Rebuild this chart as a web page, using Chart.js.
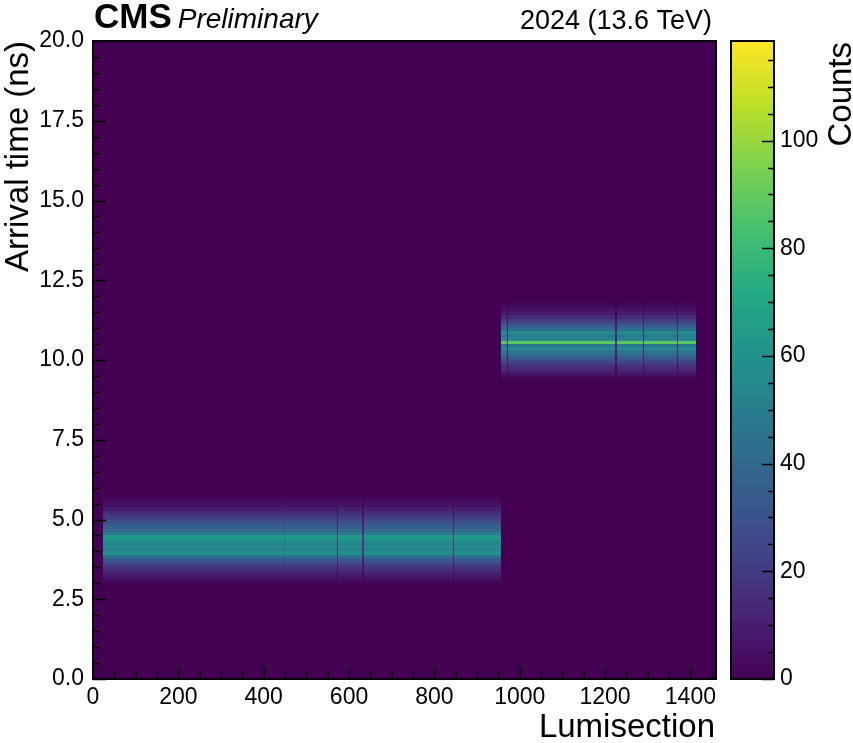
<!DOCTYPE html>
<html>
<head>
<meta charset="utf-8">
<script src="https://cdn.jsdelivr.net/npm/chart.js@4.4.1/dist/chart.umd.min.js"></script>
<style>
html,body{margin:0;padding:0;background:#fff;}
#c{display:block;}
</style>
</head>
<body>
<canvas id="c" width="853" height="743"></canvas>
<script>
// ---------------- data ----------------
// lower band (first timing setting)
const lowLumiEdges = [23, 450, 453, 572, 575, 631, 634, 843, 846, 955];
const lowLumiScale = [1, 0.82, 1, 0.35, 1, 0.35, 1, 0.38, 1];
const lowTimeBins  = [3.0,3.1,3.2,3.3,3.4,3.5,3.6,3.7,3.8,3.9,4.0,4.1,4.2,4.3,4.4,4.5,4.6,4.7,4.8,4.9,5.0,5.1,5.2,5.3,5.4,5.5,5.6];
const lowCounts    = [3,5,8,12,16,21,27,34,44,60,52,56,54,60,64,48,41,37,32,27,22,17,13,9,6,4,2];
// upper band (second timing setting)
const highLumiEdges = [955, 970, 973, 1224, 1227, 1289, 1292, 1369, 1372, 1413];
const highLumiScale = [1, 0.3, 1, 0.25, 1, 0.35, 1, 0.35, 1];
const highTimeBins  = [9.4,9.5,9.6,9.7,9.8,9.9,10.0,10.1,10.2,10.3,10.4,10.5,10.6,10.7,10.8,10.9,11.0,11.1,11.2,11.3,11.4,11.5,11.6,11.7];
const highCounts    = [3,6,10,14,20,26,32,40,46,56,46,88,54,50,58,42,36,28,21,14,9,6,4,2];
const timeBinWidth = 0.1;
// axis settings
const xMax = 1460, yMax = 20, countsMax = 118.5;
const xTickStep = 200, yTickStep = 2.5, cTickStep = 20;

// ---------------- style ----------------
const FONT = "'Liberation Sans', Arial, Helvetica, sans-serif";
const viridisStops = ['#440154','#482475','#414487','#355f8d','#2a788e','#21918c','#22a884','#44bf70','#7ad151','#bddf26','#fde725'];
function hex2rgb(h){return [parseInt(h.slice(1,3),16),parseInt(h.slice(3,5),16),parseInt(h.slice(5,7),16)];}
const vRGB = viridisStops.map(hex2rgb);
function viridis(t){
  t = Math.max(0, Math.min(1, t));
  const f = t*(vRGB.length-1);
  const i = Math.min(vRGB.length-2, Math.floor(f));
  const u = f - i;
  const a = vRGB[i], b = vRGB[i+1];
  return 'rgb(' + Math.round(a[0]+(b[0]-a[0])*u) + ',' + Math.round(a[1]+(b[1]-a[1])*u) + ',' + Math.round(a[2]+(b[2]-a[2])*u) + ')';
}

function drawBand(ctx, x, y, edges, scales, tBins, counts){
  for (let s = 0; s < scales.length; s++){
    const x0 = Math.round(x.getPixelForValue(edges[s]));
    const x1 = Math.round(x.getPixelForValue(edges[s+1]));
    for (let k = 0; k < tBins.length; k++){
      const y0 = Math.round(y.getPixelForValue(tBins[k] + timeBinWidth));
      const y1 = Math.round(y.getPixelForValue(tBins[k]));
      ctx.fillStyle = viridis(counts[k]*scales[s]/countsMax);
      ctx.fillRect(x0, y0, Math.max(1, x1-x0), Math.max(1, y1-y0));
    }
  }
}

const heatPlugin = {
  id: 'heat',
  beforeDatasetsDraw(chart){
    const {ctx, chartArea:a, scales:{x, y}} = chart;
    ctx.save();
    ctx.fillStyle = viridis(0);
    ctx.fillRect(a.left, a.top, a.right-a.left, a.bottom-a.top);
    drawBand(ctx, x, y, lowLumiEdges, lowLumiScale, lowTimeBins, lowCounts);
    drawBand(ctx, x, y, highLumiEdges, highLumiScale, highTimeBins, highCounts);
    ctx.restore();
  },
  afterDraw(chart){
    const {ctx, chartArea:a, scales:{x, y, cb}} = chart;
    ctx.save();
    // ticks inside main axes
    ctx.strokeStyle = '#000';
    ctx.lineWidth = 1.3;
    ctx.beginPath();
    for (let v = 0; v <= xMax; v += 50){
      const px = Math.round(x.getPixelForValue(v)) + 0.5;
      const len = (v % xTickStep === 0) ? 13 : 7;
      ctx.moveTo(px, a.bottom); ctx.lineTo(px, a.bottom - len);
    }
    for (let v = 0; v <= yMax + 1e-9; v += 0.5){
      const py = Math.round(y.getPixelForValue(v)) + 0.5;
      const len = (Math.abs(v/yTickStep - Math.round(v/yTickStep)) < 1e-9) ? 13 : 7;
      ctx.moveTo(a.left, py); ctx.lineTo(a.left + len, py);
    }
    ctx.stroke();
    // frame
    ctx.lineWidth = 2;
    ctx.strokeRect(a.left, a.top, a.right - a.left, a.bottom - a.top);

    // colorbar
    const cbL = 731, cbR = 774;
    const cTop = cb.getPixelForValue(countsMax), cBot = cb.getPixelForValue(0);
    const g = ctx.createLinearGradient(0, cBot, 0, cTop);
    viridisStops.forEach((c, i) => g.addColorStop(i/(viridisStops.length-1), c));
    ctx.fillStyle = g;
    ctx.fillRect(cbL, cTop, cbR - cbL, cBot - cTop);
    ctx.lineWidth = 1.3;
    ctx.beginPath();
    for (let v = 0; v <= countsMax; v += 5){
      const py = Math.round(cb.getPixelForValue(v)) + 0.5;
      const len = (v % cTickStep === 0) ? 12 : 6;
      ctx.moveTo(cbR, py); ctx.lineTo(cbR - len, py);
    }
    ctx.stroke();
    ctx.lineWidth = 2;
    ctx.strokeRect(cbL, cTop, cbR - cbL, cBot - cTop);

    // texts
    ctx.fillStyle = '#000';
    ctx.textBaseline = 'alphabetic';
    ctx.font = 'bold 35px ' + FONT;
    ctx.textAlign = 'left';
    ctx.fillText('CMS', 94, 28);
    const cmsW = ctx.measureText('CMS').width;
    ctx.font = 'italic 28px ' + FONT;
    ctx.fillText('Preliminary', 94 + cmsW + 6, 28);
    ctx.font = '27px ' + FONT;
    ctx.textAlign = 'right';
    ctx.fillText('2024 (13.6 TeV)', 712, 29);
    // x title
    ctx.font = '33px ' + FONT;
    ctx.textAlign = 'right';
    ctx.fillText('Lumisection', 715, 737);
    // y title
    ctx.save();
    ctx.translate(28, 41);
    ctx.rotate(-Math.PI/2);
    ctx.textAlign = 'right';
    ctx.font = '33px ' + FONT;
    ctx.fillText('Arrival time (ns)', 0, 0);
    ctx.restore();
    // colorbar title
    ctx.save();
    ctx.translate(851, 42);
    ctx.rotate(-Math.PI/2);
    ctx.textAlign = 'right';
    ctx.font = '33px ' + FONT;
    ctx.fillText('Counts', 0, 0);
    ctx.restore();
    ctx.restore();
  }
};

Chart.defaults.font.family = FONT;
Chart.defaults.color = '#000';

function noPad(s){ s.paddingTop = 0; s.paddingBottom = 0; s.paddingLeft = 0; s.paddingRight = 0; }

new Chart(document.getElementById('c'), {
  type: 'scatter',
  data: { datasets: [{ data: [], pointRadius: 0 }] },
  options: {
    responsive: false,
    maintainAspectRatio: false,
    animation: false,
    events: [],
    layout: { padding: { top: 41, left: 0, right: 0, bottom: 0 } },
    plugins: { legend: { display: false }, tooltip: { enabled: false } },
    scales: {
      x: {
        type: 'linear', position: 'bottom', min: 0, max: xMax,
        grid: { display: false, drawTicks: false }, border: { display: false },
        ticks: { stepSize: xTickStep, includeBounds: false, padding: 5, font: { size: 23 }, maxRotation: 0, autoSkip: false,
                 callback: v => String(v) },
        afterFit(s){ s.height = 64; noPad(s); }
      },
      y: {
        type: 'linear', position: 'left', min: 0, max: yMax,
        grid: { display: false, drawTicks: false }, border: { display: false },
        ticks: { stepSize: yTickStep, includeBounds: false, padding: 9, font: { size: 23 }, autoSkip: false,
                 callback: v => Number(v).toFixed(1) },
        afterFit(s){ s.width = 93; noPad(s); }
      },
      cb: {
        type: 'linear', position: 'right', min: 0, max: countsMax,
        grid: { display: false, drawTicks: false }, border: { display: false },
        ticks: { stepSize: cTickStep, includeBounds: false, padding: 64, font: { size: 23 }, autoSkip: false },
        afterFit(s){ s.width = 137; noPad(s); }
      }
    }
  },
  plugins: [heatPlugin]
});
</script>
</body>
</html>
